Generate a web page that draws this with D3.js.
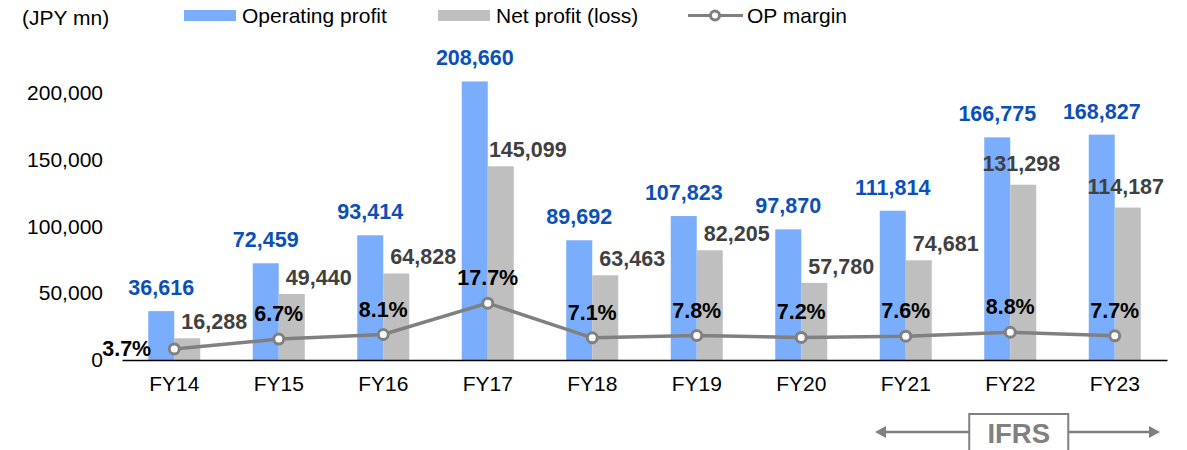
<!DOCTYPE html>
<html>
<head>
<meta charset="utf-8">
<script src="https://cdn.jsdelivr.net/npm/d3@7"></script>
<style>
  html, body { margin: 0; padding: 0; background: #fff; }
  svg { display: block; font-family: "Liberation Sans", Arial, sans-serif; }
</style>
</head>
<body>
<svg id="chart" width="1187" height="450"></svg>
<script>
// Fiscal years and results (JPY mn)
const categories = ["FY14", "FY15", "FY16", "FY17", "FY18", "FY19", "FY20", "FY21", "FY22", "FY23"];
const operatingProfit = [36616, 72459, 93414, 208660, 89692, 107823, 97870, 111814, 166775, 168827];
const netProfit = [16288, 49440, 64828, 145099, 63463, 82205, 57780, 74681, 131298, 114187];
const opMargin = [3.7, 6.7, 8.1, 17.7, 7.1, 7.8, 7.2, 7.6, 8.8, 7.7];
const yTicks = [0, 50000, 100000, 150000, 200000];
const ifrsYears = ["FY21", "FY22", "FY23"];

const colors = {
  op: "#7aaefc",
  net: "#bfbfbf",
  line: "#808080",
  opLabel: "#0b4fb8",
  netLabel: "#404040"
};

const svg = d3.select("#chart");
const fontSize = 21;
const labelSize = 21.5;

const x = d3.scaleBand().domain(categories).range([122, 1167]).padding(0);
const bw = x.bandwidth();
const barW = 26;
const y = d3.scaleLinear().domain([0, 200000]).range([360, 93]);
const yPct = d3.scaleLinear().domain([0, 82]).range([361, 93]);
const cx = c => x(c) + bw / 2;

// Unit caption
svg.append("text").attr("x", 22).attr("y", 25)
  .attr("font-size", fontSize).attr("fill", "#000").text("(JPY mn)");

// Left axis labels only
const yAxis = d3.axisLeft(y).tickValues(yTicks).tickSize(0).tickPadding(0)
  .tickFormat(d3.format(","));
const gy = svg.append("g").attr("transform", "translate(103,0)").call(yAxis);
gy.select(".domain").remove();
gy.selectAll("text").attr("font-size", fontSize).attr("fill", "#000")
  .attr("font-family", "Liberation Sans, Arial, sans-serif");

// Bars
const rows = categories.map((c, i) => ({ c, i, op: operatingProfit[i], net: netProfit[i], m: opMargin[i] }));

svg.append("g").selectAll("rect.op").data(rows).join("rect")
  .attr("x", d => cx(d.c) - barW).attr("width", barW)
  .attr("y", d => y(d.op)).attr("height", d => y(0) - y(d.op))
  .attr("fill", colors.op);

svg.append("g").selectAll("rect.net").data(rows).join("rect")
  .attr("x", d => cx(d.c)).attr("width", barW)
  .attr("y", d => y(d.net)).attr("height", d => y(0) - y(d.net))
  .attr("fill", colors.net);

// Category axis
const xAxis = d3.axisBottom(x).tickSize(0).tickPadding(0);
const gx = svg.append("g").attr("transform", "translate(0,360)").call(xAxis);
gx.select(".domain").attr("stroke", "#000").attr("stroke-width", 1.5);
gx.selectAll("text").attr("font-size", fontSize).attr("fill", "#000")
  .attr("dy", null).attr("y", 31)
  .attr("font-family", "Liberation Sans, Arial, sans-serif");

// Operating profit labels
const fmt = d3.format(",");
svg.append("g").selectAll("text").data(rows).join("text")
  .attr("x", d => cx(d.c) - barW / 2)
  .attr("y", d => y(d.op) - 16)
  .attr("text-anchor", "middle").attr("font-weight", "bold")
  .attr("font-size", labelSize).attr("fill", colors.opLabel)
  .text(d => fmt(d.op));

// Net profit labels: beside the bar, or above it where there is room
const centredNet = new Set(["FY22", "FY23"]);
svg.append("g").selectAll("text").data(rows).join("text")
  .attr("x", d => centredNet.has(d.c) ? cx(d.c) + barW / 2 - 2 : cx(d.c) + barW / 2 + 27)
  .attr("y", d => centredNet.has(d.c) ? y(d.net) - 14 : y(d.net) - 9)
  .attr("text-anchor", "middle").attr("font-weight", "bold")
  .attr("font-size", labelSize).attr("fill", colors.netLabel)
  .text(d => fmt(d.net));

// OP margin line
const line = d3.line().x(d => cx(d.c)).y(d => yPct(d.m));
svg.append("path").datum(rows).attr("d", line)
  .attr("fill", "none").attr("stroke", colors.line).attr("stroke-width", 3.5);
svg.append("g").selectAll("circle").data(rows).join("circle")
  .attr("cx", d => cx(d.c)).attr("cy", d => yPct(d.m)).attr("r", 5)
  .attr("fill", "#fff").attr("stroke", colors.line).attr("stroke-width", 3);

svg.append("g").selectAll("text").data(rows).join("text")
  .attr("x", d => d.i === 0 ? cx(d.c) - 23 : cx(d.c))
  .attr("y", d => d.i === 0 ? yPct(d.m) + 7 : yPct(d.m) - 18)
  .attr("text-anchor", d => d.i === 0 ? "end" : "middle")
  .attr("font-weight", "bold").attr("font-size", labelSize).attr("fill", "#000")
  .text(d => d.m.toFixed(1) + "%");

// Legend
const legend = svg.append("g");
legend.append("rect").attr("x", 184).attr("y", 10).attr("width", 52).attr("height", 11).attr("fill", colors.op);
legend.append("text").attr("x", 242).attr("y", 23).attr("font-size", fontSize).text("Operating profit");
legend.append("rect").attr("x", 438).attr("y", 10).attr("width", 52).attr("height", 11).attr("fill", colors.net);
legend.append("text").attr("x", 496).attr("y", 23).attr("font-size", fontSize).text("Net profit (loss)");
legend.append("line").attr("x1", 688).attr("x2", 743).attr("y1", 15.5).attr("y2", 15.5)
  .attr("stroke", colors.line).attr("stroke-width", 3);
legend.append("circle").attr("cx", 715).attr("cy", 15.5).attr("r", 4.5)
  .attr("fill", "#fff").attr("stroke", colors.line).attr("stroke-width", 3);
legend.append("text").attr("x", 747).attr("y", 23).attr("font-size", fontSize).text("OP margin");

// IFRS period marker
const ifrs = svg.append("g");
const arrowY = 432;
const aL = x(ifrsYears[0]) + 21.5;
const aR = x(ifrsYears[ifrsYears.length - 1]) + bw - 7;
const boxCx = cx(ifrsYears[1]) + 8.5;
ifrs.append("line").attr("x1", aL + 10).attr("x2", aR - 10).attr("y1", arrowY).attr("y2", arrowY)
  .attr("stroke", colors.line).attr("stroke-width", 2.5);
ifrs.append("path").attr("d", `M${aL},${arrowY} L${aL + 11},${arrowY - 6} L${aL + 11},${arrowY + 6} Z`).attr("fill", colors.line);
ifrs.append("path").attr("d", `M${aR},${arrowY} L${aR - 11},${arrowY - 6} L${aR - 11},${arrowY + 6} Z`).attr("fill", colors.line);
ifrs.append("rect").attr("x", boxCx - 49.5).attr("y", 414).attr("width", 99).attr("height", 45)
  .attr("fill", "#fff").attr("stroke", colors.line).attr("stroke-width", 2);
ifrs.append("text").attr("x", boxCx).attr("y", 443).attr("text-anchor", "middle")
  .attr("font-weight", "bold").attr("font-size", 27.5).attr("fill", colors.line).text("IFRS");
</script>
</body>
</html>
